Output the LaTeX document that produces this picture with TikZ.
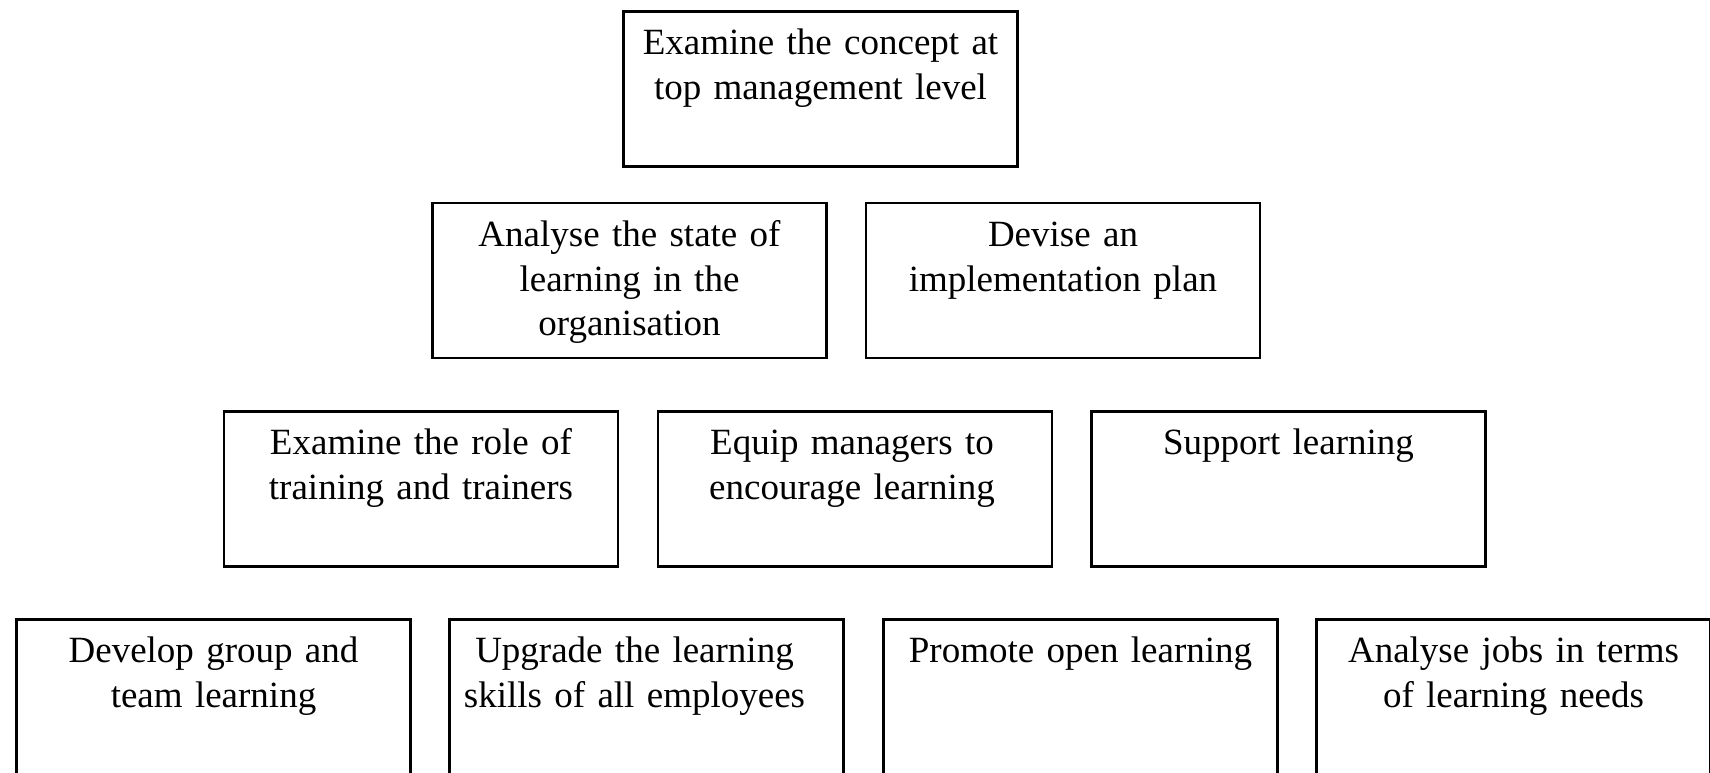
\documentclass[tikz,border=0pt]{standalone}
\usepackage{fontspec}
\setmainfont[WordSpace=0.8]{Liberation Serif}
\usetikzlibrary{calc}
\begin{document}
\begin{tikzpicture}[x=1pt,y=1pt,
  box/.style={draw=black, line width=2.4pt, minimum width=394pt, minimum height=155pt, inner sep=0pt},
  txt/.style={anchor=base, align=center, text width=390pt, inner sep=0pt,
    font=\fontsize{37}{44.7}\selectfont}]
\useasboundingbox (0,0) rectangle (1710,-772);
\clip (0,0) rectangle (1710,-772);
% row 1
\node[box] (b1) at (820.5,-89) {};
% row 2
\node[box] (b2) at (629.5,-280.5) {};
\node[box] (b3) at (1063,-280.5) {};
% row 3
\node[box] (b4) at (421,-489) {};
\node[box] (b5) at (855,-489) {};
\node[box] (b6) at (1288.5,-489) {};
% row 4
\node[box] (b7) at (213.5,-697) {};
\node[box] (b8) at (646.5,-697) {};
\node[box] (b9) at (1080.5,-697) {};
\node[box] (b10) at (1513.5,-697) {};
% texts
\node[txt] (t1) at ($(b1.north)+(0,-44.5)$) {Examine the concept at\\top management level};
\node[txt] (t2) at ($(b2.north)+(0,-44.5)$) {Analyse the state of\\learning in the\\organisation};
\node[txt] (t3) at ($(b3.north)+(0,-44.5)$) {Devise an\\implementation plan};
\node[txt] (t4) at ($(b4.north)+(0,-44.5)$) {Examine the role of\\training and trainers};
\node[txt] (t5) at ($(b5.north)+(-3,-44.5)$) {Equip managers to\\encourage learning};
\node[txt] (t6) at ($(b6.north)+(0,-44.5)$) {Support learning};
\node[txt] (t7) at ($(b7.north)+(0,-44.5)$) {Develop group and\\team learning};
\node[txt] (t8) at ($(b8.north)+(-12,-44.5)$) {Upgrade the learning\\skills of all employees};
\node[txt] (t9) at ($(b9.north)+(0,-44.5)$) {Promote open learning};
\node[txt] (t10) at ($(b10.north)+(0,-44.5)$) {Analyse jobs in terms\\of learning needs};
\end{tikzpicture}
\end{document}
